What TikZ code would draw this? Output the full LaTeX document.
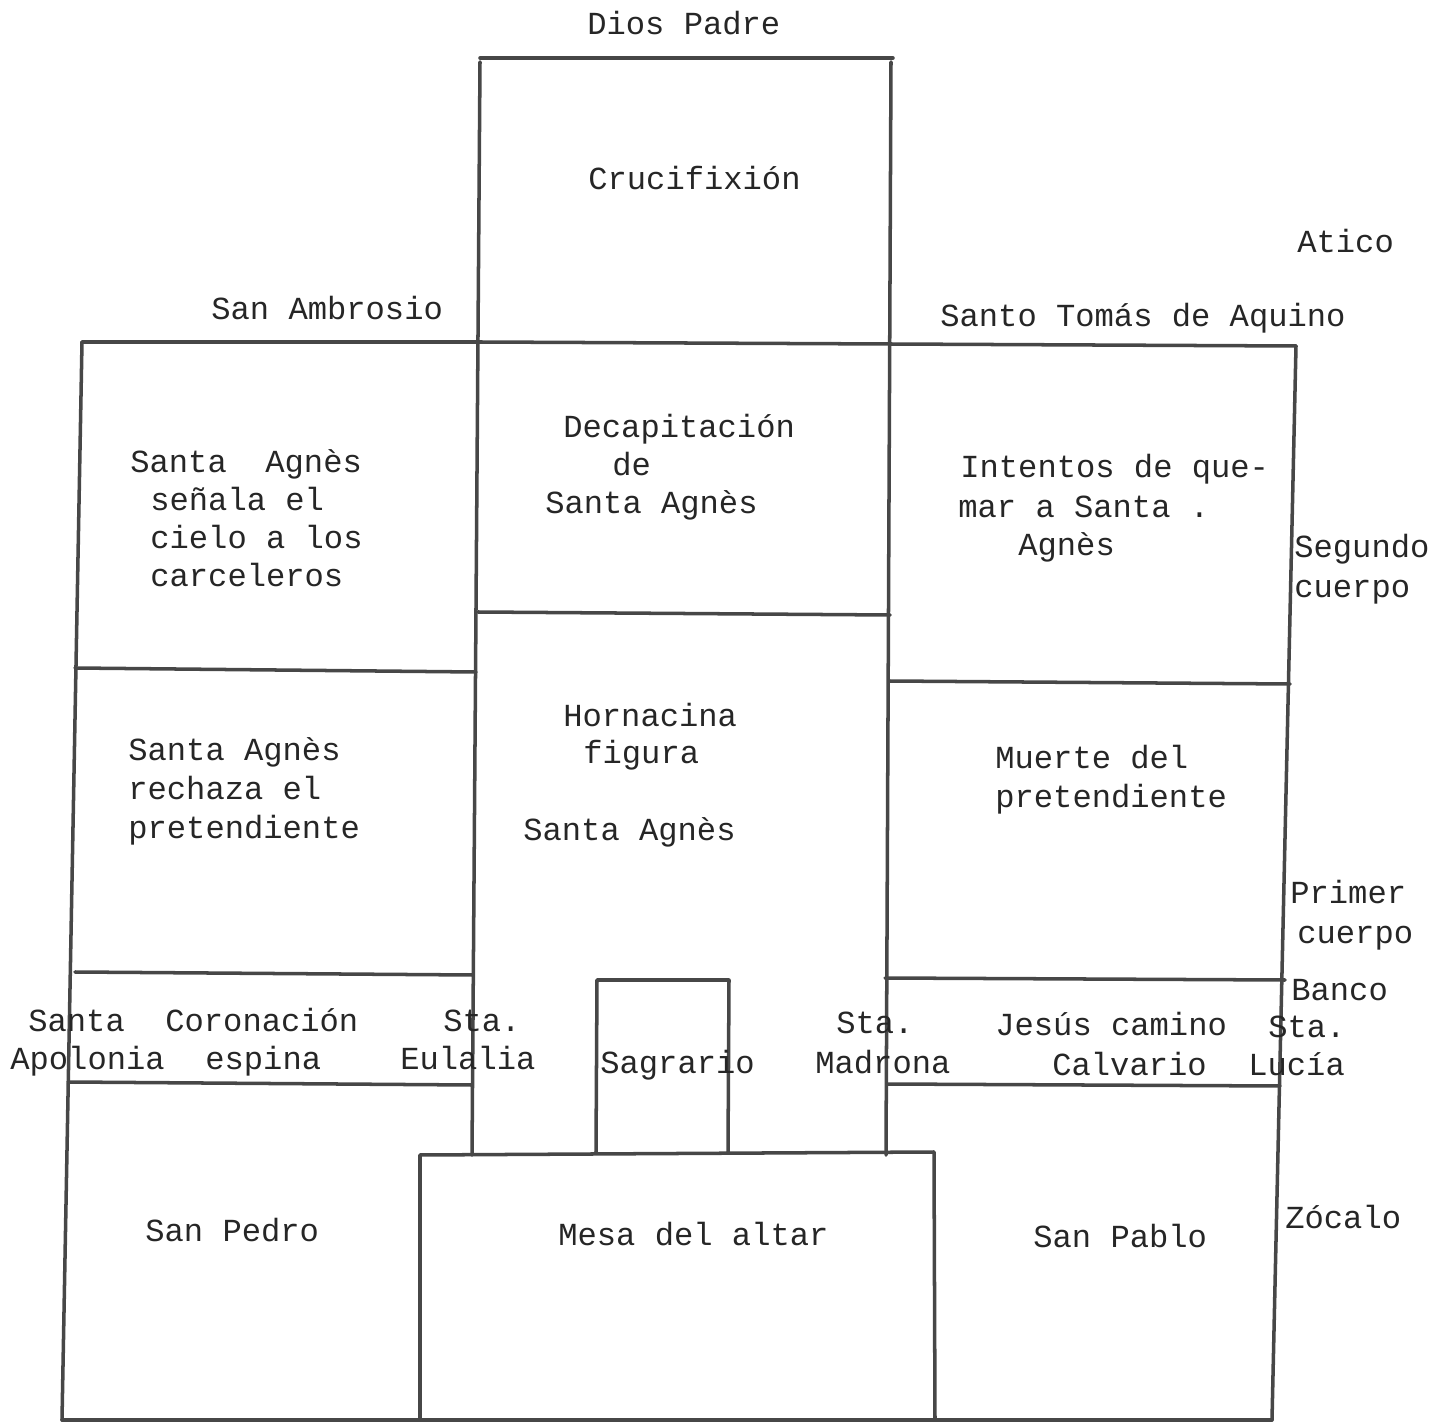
\documentclass[tikz,border=0pt]{standalone}
\usepackage{fontspec}
\setmonofont{Liberation Mono}
\begin{document}
\begin{tikzpicture}[x=0.02cm,y=-0.02cm,
  wall/.style={draw=black!72,line width=2.0,line cap=round,line join=round},
  lbl/.style={anchor=base west,inner sep=0pt,text=black!85,
    font=\ttfamily\fontsize{18.3}{22}\selectfont}]
\useasboundingbox (0,0) rectangle (1431,1425);

% --- retable frame ---
\draw[wall] (480,58) -- (893,58);
\draw[wall] (480,62) -- (472,1155);
\draw[wall] (891,62) -- (886,1155);
\draw[wall] (82,342) -- (480,342) -- (890,344) -- (1296,346);
\draw[wall] (82,342) -- (62,1420);
\draw[wall] (1296,346) -- (1272,1420);
\draw[wall] (478,612) -- (890,615);
\draw[wall] (75,668) -- (476,672);
\draw[wall] (889,681) -- (1290,684);
\draw[wall] (75,972) -- (473,975);
\draw[wall] (885,978) -- (1285,980);
\draw[wall] (68,1082) -- (472,1085);
\draw[wall] (887,1084) -- (1280,1086);
% sagrario
\draw[wall] (596,1152) -- (597,980) -- (729,980) -- (728,1152);
% mesa del altar
\draw[wall] (420,1420) -- (420,1155) -- (934,1152) -- (935,1420);
\draw[wall] (62,1420) -- (1272,1420);

% --- labels ---
\node[lbl] (diospadre) at (587,35) {Dios Padre};
\node[lbl] (cruci) at (588,190) {Crucifixión};
\node[lbl] (atico) at (1297,253) {Atico};
\node[lbl] (ambrosio) at (211,320) {San Ambrosio};
\node[lbl] (tomas) at (940,327) {Santo Tomás de Aquino};

\node[lbl] (sena1) at (130,473) {Santa\ \ Agnès};
\node[lbl] (sena2) at (150,511) {señala el};
\node[lbl] (sena3) at (150,549) {cielo a los};
\node[lbl] (sena4) at (150,587) {carceleros};

\node[lbl] (deca1) at (563,438) {Decapitación};
\node[lbl] (deca2) at (612,476) {de};
\node[lbl] (deca3) at (545,514) {Santa Agnès};

\node[lbl] (quem1) at (960,478) {Intentos de que-};
\node[lbl] (quem2) at (958,518) {mar a Santa .};
\node[lbl] (quem3) at (1018,556) {Agnès};

\node[lbl] (seg1) at (1294,558) {Segundo};
\node[lbl] (seg2) at (1294,598) {cuerpo};

\node[lbl] (horn1) at (563,726) {Hornacina};
\node[lbl] (horn2) at (583,764) {figura};
\node[lbl] (horn3) at (523,841) {Santa Agnès};

\node[lbl] (rech1) at (128,761) {Santa Agnès};
\node[lbl] (rech2) at (128,800) {rechaza el};
\node[lbl] (rech3) at (128,838) {pretendiente};

\node[lbl] (muer1) at (995,768) {Muerte del};
\node[lbl] (muer2) at (995,807) {pretendiente};

\node[lbl] (prim1) at (1290,903) {Primer};
\node[lbl] (prim2) at (1297,943) {cuerpo};
\node[lbl] (banco) at (1291,1000) {Banco};

\node[lbl] (apol1) at (28,1031) {Santa};
\node[lbl] (apol2) at (10,1069) {Apolonia};
\node[lbl] (coro1) at (165,1031) {Coronación};
\node[lbl] (coro2) at (205,1069) {espina};
\node[lbl] (eula1) at (443,1031) {Sta.};
\node[lbl] (eula2) at (400,1069) {Eulalia};
\node[lbl] (sagr) at (600,1073) {Sagrario};
\node[lbl] (madr1) at (836,1033) {Sta.};
\node[lbl] (madr2) at (815,1073) {Madrona};
\node[lbl] (jesu1) at (995,1035) {Jesús camino};
\node[lbl] (jesu2) at (1052,1075) {Calvario};
\node[lbl] (luci1) at (1268,1037) {Sta.};
\node[lbl] (luci2) at (1248,1075) {Lucía};

\node[lbl] (pedro) at (145,1241) {San Pedro};
\node[lbl] (mesa) at (558,1245) {Mesa del altar};
\node[lbl] (pablo) at (1033,1247) {San Pablo};
\node[lbl] (zocalo) at (1285,1228) {Zócalo};
\end{tikzpicture}
\end{document}
